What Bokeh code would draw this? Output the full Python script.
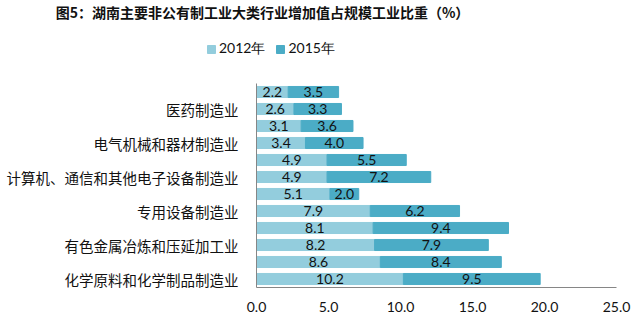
from bokeh.plotting import figure
from bokeh.layouts import column
from bokeh.models import (ColumnDataSource, Range1d, FixedTicker,
                          NumeralTickFormatter, Legend, LegendItem, Label)
from bokeh.core.properties import value
from bokeh.embed import file_html
from bokeh.resources import INLINE

# categories listed bottom -> top ("" = row whose label is not printed in the source)
categories = [
    "化学原料和化学制品制造业", "",
    "有色金属冶炼和压延加工业", "",
    "专用设备制造业", "",
    "计算机、通信和其他电子设备制造业", "",
    "电气机械和器材制造业", "",
    "医药制造业", "",
]
v2012 = [10.2, 8.6, 8.2, 8.1, 7.9, 5.1, 4.9, 4.9, 3.4, 3.1, 2.6, 2.2]
v2015 = [9.5, 8.4, 7.9, 9.4, 6.2, 2.0, 7.2, 5.5, 4.0, 3.6, 3.3, 3.5]
series_names = ["2012年", "2015年"]
x_ticks = [0, 5, 10, 15, 20, 25]
title_text = "图5：湖南主要非公有制工业大类行业增加值占规模工业比重（%）"

c2012 = "#93CDDD"
c2015 = "#4BACC6"
cjk = "Noto Sans CJK SC"
num_font = "Lato"
TOP_H = 83

# ---------- header figure (title + legend) ----------
head = figure(width=636, height=TOP_H, output_backend="svg", toolbar_location=None,
              x_range=Range1d(0, 636), y_range=Range1d(0, TOP_H),
              min_border=0)
head.frame_align = False
head.axis.visible = False
head.grid.visible = False
head.outline_line_color = None

h1 = head.hbar(y=[0], left=[0], right=[v2012[0]], height=1, color=c2012, visible=False)
h2 = head.hbar(y=[0], left=[0], right=[v2015[0]], height=1, color=c2015, visible=False)

head.add_layout(Label(x=262, y=TOP_H - 11, text=title_text, text_align="center",
                      text_baseline="middle", text_font=cjk, text_font_size="14px",
                      text_font_style="bold", text_color="#111111"))

legend = Legend(items=[LegendItem(label=series_names[0], renderers=[h1]),
                       LegendItem(label=series_names[1], renderers=[h2])],
                orientation="horizontal", location=(206, TOP_H - 58),
                glyph_width=10, glyph_height=10, label_standoff=3, spacing=10,
                padding=0, margin=0, border_line_color=None,
                background_fill_alpha=0, inactive_fill_alpha=0,
                label_text_font=num_font,
                label_text_font_size="14px", label_text_color="#111111",
                label_height=16)
head.add_layout(legend, "center")

# ---------- chart ----------
pos = list(range(len(categories)))
src = ColumnDataSource(dict(
    y=pos,
    a_end=v2012,
    b_end=[x + y for x, y in zip(v2012, v2015)],
    a_mid=[x / 2 for x in v2012],
    b_mid=[x + y / 2 for x, y in zip(v2012, v2015)],
    a_txt=[f"{x:.1f}" for x in v2012],
    b_txt=[f"{y:.1f}" for y in v2015],
))

p = figure(width=636, height=322 - TOP_H, output_backend="svg", toolbar_location=None,
           y_range=Range1d(-0.5, len(categories) - 0.5),
           x_range=Range1d(0, 25))
p.frame_align = False
p.min_border_left = 256
p.min_border_right = 20
p.min_border_top = 0
p.min_border_bottom = 35
p.outline_line_color = None
p.xgrid.visible = False
p.ygrid.visible = False

p.hbar(y="y", left=0, right="a_end", height=0.65, color=c2012, source=src)
p.hbar(y="y", left="a_end", right="b_end", height=0.65, color=c2015, source=src)

for xcol, tcol in (("a_mid", "a_txt"), ("b_mid", "b_txt")):
    p.text(x=xcol, y="y", text=tcol, source=src, text_align="center",
           text_baseline="middle", text_font=value(num_font), text_font_size="14px",
           text_color="#111111")

xa = p.xaxis[0]
xa.ticker = FixedTicker(ticks=x_ticks)
xa.formatter = NumeralTickFormatter(format="0.0")
xa.major_tick_line_color = None
xa.minor_tick_line_color = None
xa.axis_line_color = "#868686"
xa.major_label_text_font = num_font
xa.major_label_text_font_size = "14px"
xa.major_label_text_color = "#111111"
xa.major_label_standoff = 8

labelled = [i for i, c in zip(pos, categories) if c]
ya = p.yaxis[0]
ya.ticker = FixedTicker(ticks=labelled, minor_ticks=[])
ya.major_label_overrides = {i: categories[i] for i in labelled}
ya.major_tick_line_color = None
ya.minor_tick_line_color = None
ya.axis_line_color = "#868686"
ya.major_label_text_font = cjk
ya.major_label_text_font_size = "14.5px"
ya.major_label_text_color = "#111111"
ya.major_label_standoff = 12

layout = column(head, p, spacing=0)
open("out.html", "w").write(file_html(layout, INLINE))
